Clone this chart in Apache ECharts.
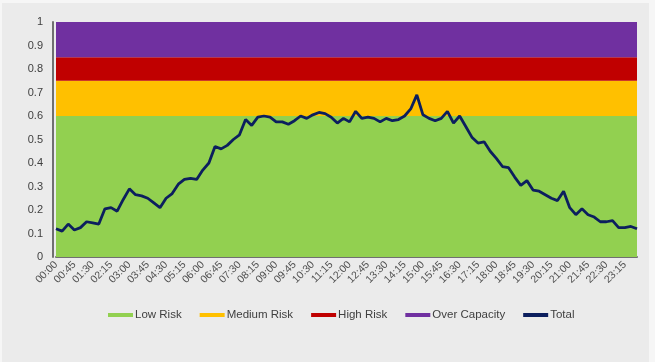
<!DOCTYPE html>
<html>
<head>
<meta charset="utf-8">
<script src="https://cdn.jsdelivr.net/npm/echarts@6/dist/echarts.min.js"></script>
<style>
html,body{margin:0;padding:0;background:#f6f6f6;}
#chart{position:absolute;left:0;top:0;width:655px;height:362px;}
</style>
</head>
<body>
<div id="chart"></div>
<script>
// Time categories every 15 minutes
var categories = [];
for (var h = 0; h < 24; h++) {
  for (var m = 0; m < 60; m += 15) {
    categories.push((h < 10 ? '0' : '') + h + ':' + (m < 10 ? '0' : '') + m);
  }
}
// Risk band boundaries (lower, upper)
var bandNames = ['Low Risk', 'Medium Risk', 'High Risk', 'Over Capacity'];
var bandLower = [0, 0.6, 0.75, 0.85];
var bandUpper = [0.6, 0.75, 0.85, 1];
var bandColors = ['#92D050', '#FFC000', '#C00000', '#7030A0'];

// Total occupancy
var total = [
  0.12, 0.11, 0.14, 0.115, 0.125, 0.15, 0.145, 0.14, 0.205, 0.21,
  0.195, 0.245, 0.29, 0.265, 0.26, 0.25, 0.23, 0.21, 0.25, 0.27,
  0.31, 0.33, 0.335, 0.33, 0.37, 0.40, 0.47, 0.46, 0.475, 0.50,
  0.52, 0.585, 0.56, 0.595, 0.60, 0.595, 0.575, 0.575, 0.565, 0.58,
  0.60, 0.59, 0.605, 0.615, 0.61, 0.595, 0.57, 0.59, 0.575, 0.62,
  0.59, 0.595, 0.59, 0.575, 0.59, 0.58, 0.585, 0.60, 0.63, 0.69,
  0.605, 0.59, 0.58, 0.59, 0.62, 0.57, 0.60, 0.555, 0.51, 0.485,
  0.49, 0.45, 0.42, 0.385, 0.38, 0.34, 0.305, 0.325, 0.285, 0.28,
  0.265, 0.25, 0.24, 0.28, 0.21, 0.18, 0.205, 0.18, 0.17, 0.15,
  0.15, 0.155, 0.125, 0.125, 0.13, 0.12
];
var yTicks = { min: 0, max: 1, interval: 0.1 };

var series = [];
for (var i = 0; i < bandNames.length; i++) {
  series.push({
    name: bandNames[i],
    type: 'line',
    data: [],
    color: bandColors[i],
    symbol: 'none',
    lineStyle: { width: 0 },
    z: 1,
    markArea: {
      silent: true,
      itemStyle: { color: bandColors[i], opacity: 1 },
      data: [[{ yAxis: bandLower[i] }, { yAxis: bandUpper[i] }]]
    }
  });
}
series.push({
  name: 'Total',
  type: 'line',
  data: total,
  color: '#0C1F5E',
  symbol: 'none',
  lineStyle: { width: 2.8, color: '#0C1F5E' },
  z: 5
});

var chart = echarts.init(document.getElementById('chart'), null, { renderer: 'canvas' });
chart.setOption({
  animation: false,
  backgroundColor: 'transparent',
  graphic: [{
    type: 'rect', left: 2, top: 3, z: -10,
    shape: { width: 647, height: 359 },
    style: { fill: '#ebebeb' }
  }],
  grid: { left: 56, right: 18, top: 22, bottom: 105, containLabel: false },
  legend: {
    top: 304,
    left: 103,
    icon: 'rect',
    itemWidth: 25,
    itemHeight: 4,
    itemGap: 18,
    textStyle: { fontFamily: 'Liberation Sans, Arial', fontSize: 11.5, color: '#404040', padding: [0, 0, 0, -3] },
    data: bandNames.concat(['Total'])
  },
  xAxis: {
    type: 'category',
    data: categories,
    boundaryGap: false,
    axisLine: { show: true, lineStyle: { color: '#707070', width: 2 } },
    axisTick: { show: false },
    axisLabel: {
      interval: 2,
      rotate: 45,
      fontFamily: 'Liberation Sans, Arial',
      fontSize: 10.5,
      color: '#505050',
      margin: 6
    },
    splitLine: { show: false }
  },
  yAxis: {
    type: 'value',
    min: yTicks.min,
    max: yTicks.max,
    interval: yTicks.interval,
    offset: 3,
    axisLine: { show: true, lineStyle: { color: '#707070', width: 2 } },
    axisTick: { show: false },
    axisLabel: {
      fontFamily: 'Liberation Sans, Arial',
      fontSize: 11,
      color: '#404040',
      margin: 10
    },
    splitLine: { show: false }
  },
  series: series
});
</script>
</body>
</html>
